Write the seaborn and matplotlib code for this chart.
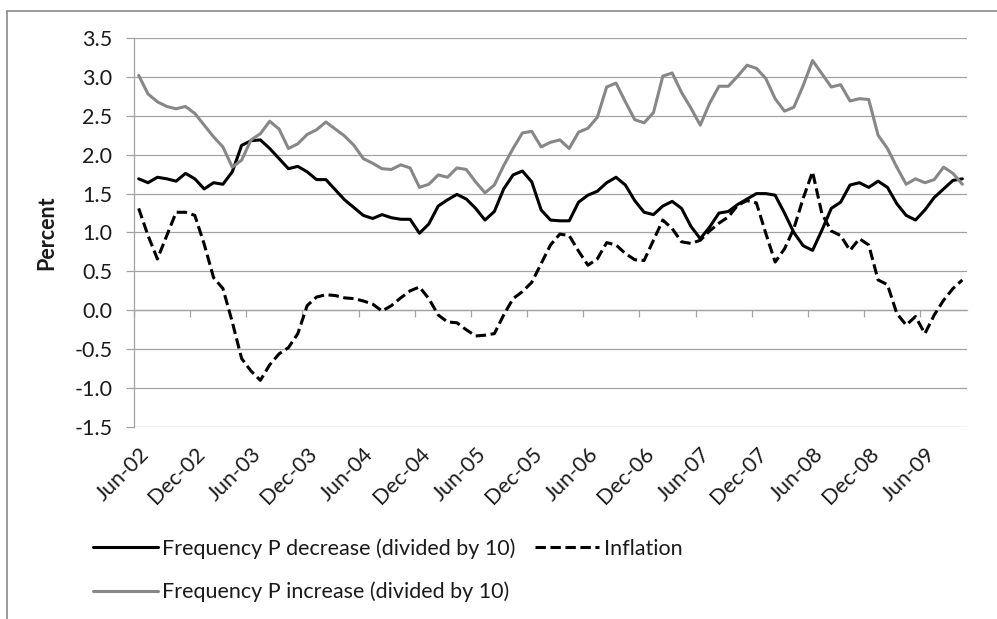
import matplotlib
matplotlib.use("Agg")
import matplotlib.pyplot as plt
from matplotlib.lines import Line2D
import numpy as np
import pandas as pd
import seaborn as sns

# Monthly observations, Jun-2002 .. Oct-2009
months = pd.date_range("2002-06-01", "2009-10-01", freq="MS")

freq_decrease = [
    1.69, 1.64, 1.71, 1.69, 1.66, 1.76, 1.69, 1.56, 1.64, 1.62,
    1.78, 2.12, 2.18, 2.19, 2.08, 1.95, 1.82, 1.85, 1.78, 1.68,
    1.68, 1.55, 1.42, 1.32, 1.22, 1.18, 1.23, 1.19, 1.17, 1.17,
    0.99, 1.11, 1.34, 1.42, 1.49, 1.43, 1.31, 1.16, 1.27, 1.56,
    1.74, 1.79, 1.65, 1.29, 1.16, 1.15, 1.15, 1.39, 1.48, 1.53,
    1.64, 1.71, 1.61, 1.41, 1.26, 1.23, 1.34, 1.40, 1.31, 1.08,
    0.92, 1.07, 1.25, 1.27, 1.36, 1.43, 1.50, 1.50, 1.48, 1.25,
    1.00, 0.83, 0.77, 1.03, 1.31, 1.39, 1.61, 1.64, 1.58, 1.66,
    1.58, 1.37, 1.22, 1.16, 1.29, 1.45, 1.56, 1.67, 1.69,
]

inflation = [
    1.31, 0.96, 0.66, 0.96, 1.26, 1.26, 1.22, 0.85, 0.42, 0.28,
    -0.15, -0.62, -0.78, -0.90, -0.70, -0.56, -0.48, -0.30, 0.06, 0.17,
    0.20, 0.19, 0.16, 0.15, 0.12, 0.08, -0.01, 0.06, 0.16, 0.25,
    0.30, 0.15, -0.06, -0.15, -0.16, -0.25, -0.33, -0.32, -0.30, -0.06,
    0.15, 0.24, 0.36, 0.60, 0.84, 0.98, 0.96, 0.76, 0.58, 0.66,
    0.87, 0.84, 0.73, 0.65, 0.64, 0.90, 1.16, 1.05, 0.88, 0.86,
    0.90, 1.02, 1.12, 1.20, 1.35, 1.41, 1.38, 0.99, 0.62, 0.79,
    1.05, 1.44, 1.78, 1.24, 1.02, 0.96, 0.77, 0.92, 0.84, 0.39,
    0.33, -0.04, -0.19, -0.08, -0.30, -0.06, 0.13, 0.28, 0.39,
]

freq_increase = [
    3.02, 2.78, 2.68, 2.62, 2.59, 2.62, 2.53, 2.38, 2.23, 2.10,
    1.84, 1.93, 2.19, 2.27, 2.43, 2.33, 2.08, 2.14, 2.26, 2.32,
    2.42, 2.33, 2.24, 2.12, 1.95, 1.89, 1.82, 1.81, 1.87, 1.83,
    1.58, 1.62, 1.74, 1.71, 1.83, 1.81, 1.65, 1.51, 1.61, 1.86,
    2.08, 2.28, 2.30, 2.10, 2.16, 2.19, 2.08, 2.29, 2.34, 2.48,
    2.87, 2.92, 2.68, 2.45, 2.41, 2.54, 3.01, 3.05, 2.80, 2.60,
    2.38, 2.66, 2.88, 2.88, 3.01, 3.15, 3.11, 2.98, 2.72, 2.56,
    2.61, 2.89, 3.21, 3.04, 2.87, 2.90, 2.69, 2.72, 2.71, 2.25,
    2.08, 1.84, 1.62, 1.69, 1.64, 1.68, 1.84, 1.76, 1.62,
]

tick_labels = ["Jun-02", "Dec-02", "Jun-03", "Dec-03", "Jun-04", "Dec-04",
               "Jun-05", "Dec-05", "Jun-06", "Dec-06", "Jun-07", "Dec-07",
               "Jun-08", "Dec-08", "Jun-09"]

label_dec = "Frequency P decrease (divided by 10)"
label_inf = "Inflation"
label_inc = "Frequency P increase (divided by 10)"

df = pd.DataFrame({
    "month": months,
    "pos": np.arange(len(months)),
    label_dec: freq_decrease,
    label_inf: inflation,
    label_inc: freq_increase,
})

sns.set_style("white")
plt.rcParams["font.family"] = ["Lato", "DejaVu Sans"]

GRID = "#a3a3a3"
TXT = "#1a1a1a"
FS = 15.5

fig = plt.figure(figsize=(9.97, 6.19), dpi=100)
ax = fig.add_axes([134 / 997, 1 - 427 / 619, (967 - 134) / 997, (427 - 38) / 619])

lw = 2.2
sns.lineplot(data=df, x="pos", y=label_dec, ax=ax, color="black", lw=lw,
             label=label_dec, legend=False)
sns.lineplot(data=df, x="pos", y=label_inf, ax=ax, color="black", lw=lw,
             dashes=False, label=label_inf, legend=False)
ax.lines[-1].set_dashes((3.4, 1.5))
sns.lineplot(data=df, x="pos", y=label_inc, ax=ax, color="#878787", lw=lw,
             label=label_inc, legend=False)

n = len(months)
ax.set_xlim(-0.5, n - 0.5)
ax.set_ylim(-1.5, 3.5)
yt = np.arange(-1.5, 3.51, 0.5)
ax.set_yticks(yt)
ax.set_yticklabels([f"{v:.1f}" for v in yt])
ax.yaxis.grid(True, color=GRID, lw=0.9)
ax.xaxis.grid(False)
ax.set_axisbelow(True)

for s in ("top", "right", "bottom"):
    ax.spines[s].set_visible(False)
ax.spines["left"].set_color(GRID)
ax.spines["left"].set_linewidth(0.9)

ax.tick_params(axis="y", length=5.5, width=0.9, color=GRID, pad=10,
               labelsize=FS, labelcolor=TXT, left=True)
label_pos = np.arange(0, n, 6)[:len(tick_labels)]
ax.set_xticks(label_pos)
ax.set_xticklabels(tick_labels, rotation=45, ha="right", va="top",
                   rotation_mode="anchor")
ax.tick_params(axis="x", length=0, pad=12, labelsize=FS, labelcolor=TXT,
               bottom=True)
ax.set_xlabel("")
ax.set_ylabel("Percent", fontsize=FS, fontweight="bold", color=TXT, labelpad=12)

# Category axis drawn through zero with boundary tick marks
zero_frac = (0 - (-1.5)) / (3.5 - (-1.5))
sec = ax.secondary_xaxis(zero_frac)
sec.set_xticks(np.arange(-0.5, n, 6))
sec.tick_params(axis="x", direction="out", length=5, width=0.9, color=GRID,
                labelbottom=False)
sec.spines["bottom"].set_color(GRID)
sec.spines["bottom"].set_linewidth(0.9)

# Chart frame
fig.add_artist(Line2D([7 / 997, 7 / 997], [0, 1 - 11 / 619],
                      transform=fig.transFigure, color="#8a8a8a", lw=1.2))
fig.add_artist(Line2D([7 / 997, 1], [1 - 11 / 619, 1 - 11 / 619],
                      transform=fig.transFigure, color="#8a8a8a", lw=1.2))

h = {l.get_label(): l for l in ax.lines if l.get_label() in (label_dec, label_inf, label_inc)}
handles = [h[label_dec], h[label_inc], h[label_inf]]
fig.legend(handles=handles, labels=[label_dec, label_inc, label_inf],
           loc="upper left", bbox_to_anchor=(93 / 997, 1 - 538 / 619),
           ncol=2, frameon=False, fontsize=FS, handlelength=3.0,
           handletextpad=0.2, columnspacing=0.9, labelspacing=1.08,
           borderpad=0, borderaxespad=0, labelcolor=TXT)

fig.savefig("out.png", dpi=100)
